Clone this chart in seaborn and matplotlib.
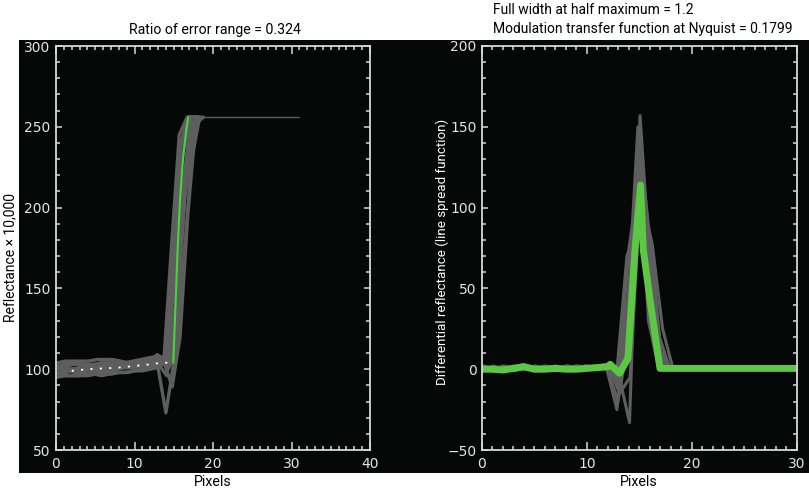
"""
Edge response (ESF) and line spread function (LSF) panels, IDL-style black plots.
"""
import matplotlib
matplotlib.use("Agg")
import matplotlib.pyplot as plt
import matplotlib.patches as mpatches
from matplotlib.ticker import MultipleLocator
import pandas as pd
import seaborn as sns

# ---- data: edge spread profiles (values at pixels 0..18, per-profile sub-pixel shift) ----
esf_pixels = list(range(19))
esf_a = [101, 100, 100, 101, 101, 101, 102, 102, 101, 102, 103, 104, 104, 106, 104, 150, 228, 256, 256]
esf_b = [97, 97, 96, 97, 97, 97, 98, 98, 98, 98, 99, 99, 100, 101, 73, 104, 182, 250, 256]
esf_c = [104, 105, 105, 105, 105, 106, 106, 106, 105, 104, 104, 103, 103, 102, 104, 140, 214, 256, 256]
esf_d = [98, 98, 99, 98, 99, 99, 99, 100, 100, 101, 101, 102, 103, 108, 103, 175, 245, 256, 256]
esf_e = [96, 96, 96, 97, 97, 96, 97, 98, 98, 99, 100, 100, 102, 104, 89, 120, 196, 252, 256]
esf_f = [100, 101, 100, 100, 99, 100, 100, 101, 101, 101, 102, 102, 104, 109, 106, 165, 240, 256, 256]
esf_g = [99, 99, 98, 99, 100, 100, 100, 100, 101, 101, 102, 102, 103, 105, 102, 138, 205, 245, 256]
esf_h = [102, 102, 103, 103, 102, 103, 103, 103, 103, 103, 104, 105, 106, 107, 100, 112, 170, 230, 256]
esf_i = [95, 96, 96, 96, 96, 97, 97, 97, 98, 98, 99, 100, 101, 103, 96, 126, 200, 250, 256]
esf_j = [103, 103, 104, 104, 103, 103, 104, 104, 104, 104, 105, 106, 107, 108, 104, 158, 236, 256, 256]
esf_k = [99, 100, 100, 99, 100, 101, 101, 100, 101, 102, 102, 103, 104, 106, 103, 145, 220, 254, 256]
esf_profiles = [esf_a, esf_b, esf_c, esf_d, esf_e, esf_f, esf_g, esf_h, esf_i, esf_j, esf_k]
esf_shift = [0.0, 0.0, 0.2, -0.3, 0.8, -0.1, 0.4, 0.3, 0.1, -0.2, 0.55]

# saturated tail of the edge
tail_x = [17, 31]
tail_y = [256, 256]

# mean (oversampled) edge, green, and the white dotted baseline mean
esf_fit_x = [14.94, 15.1, 15.25, 15.5, 15.8, 16.05, 16.3, 16.6, 16.85]
esf_fit_y = [104, 124, 143, 175, 205, 222, 236, 248, 256]
base_mean_x = [2, 4, 6, 8, 10, 12, 13.5, 14.7]
base_mean_y = [99, 100, 100.5, 101, 102, 103, 104, 104]

# ---- data: line spread profiles (values at pixels 0..18) ----
lsf_pixels = list(range(19))
lsf_a = [0, -1, 1, 0, 2, 1, 0, -1, 1, 0, 1, 1, 2, -4, -33, 157, 60, 3, 0]
lsf_b = [1, 0, 0, 2, 1, -1, 1, 0, 2, 1, 0, 2, 3, -10, 10, 140, 80, 10, 0]
lsf_c = [-1, 0, 2, 1, 0, 1, 2, 1, 0, 1, 2, 1, 1, -6, 75, 120, 40, 0, 0]
lsf_d = [0, 2, 0, -1, 1, 2, 0, 1, 1, 2, 1, 0, 2, -15, -5, 110, 78, 5, 0]
lsf_e = [1, -1, 0, 1, 3, 1, 0, 2, 1, 0, 1, 2, 0, -8, 30, 95, 75, 20, 0]
lsf_f = [0, 0, 1, 0, 1, 0, 1, 0, 2, 1, 1, 2, 3, -3, 60, 130, 55, 0, 0]
lsf_g = [-1, 1, 0, 1, 2, 0, 1, 1, 0, 2, 1, 1, 1, -20, 20, 125, 70, 12, 0]
lsf_h = [2, 0, 1, 0, 1, 1, 0, 1, 1, 1, 0, 1, 2, -12, 45, 105, 78, 25, 0]
lsf_i = [0, 1, 0, 1, 2, 1, 0, 1, 1, 0, 1, 1, 2, -5, 70, 88, 72, 8, 0]
lsf_j = [1, 0, 1, 0, 1, 0, 1, 1, 0, 1, 2, 1, 1, -25, 35, 150, 30, 0, 0]
lsf_profiles = [lsf_a, lsf_b, lsf_c, lsf_d, lsf_e, lsf_f, lsf_g, lsf_h, lsf_i, lsf_j]
lsf_shift = [0.05, 0.0, 0.0, 0.1, -0.1, 0.15, -0.05, 0.2, -0.2, -0.15]

# mean LSF, thick green
lsf_fit_x = [0, 1, 2, 3, 4, 5, 6, 7, 8, 9, 10, 11, 12, 12.2, 13.1, 13.9, 14.57, 15.1, 15.36, 16.0, 16.95, 30]
lsf_fit_y = [0, 0, -0.5, 0.5, 1.5, 0, 0, 0.5, 0, 0, 0.5, 1, 1.5, 3, -2.5, 6.7, 74, 114, 74, 43, 0.5, 0.5]

left_title = "Ratio of error range = 0.324"
right_title_1 = "Full width at half maximum = 1.2"
right_title_2 = "Modulation transfer function at Nyquist = 0.1799"
left_ylabel = "Reflectance \u00d7 10,000"
right_ylabel = "Differential reflectance (line spread function)"
xlabel = "Pixels"

# ---- style ----
sns.set_style("white")
plt.rcParams["font.family"] = ["DejaVu Sans"]
GRAY = "#5e5e5e"
FRAME = "#d8d8d8"
LABEL_FONT = ["Roboto", "DejaVu Sans"]


def long_frame(pixels, profiles, shifts):
    rows = []
    for k, (vals, s) in enumerate(zip(profiles, shifts)):
        for p, v in zip(pixels, vals):
            rows.append({"pixel": p + s, "value": v, "profile": k})
    return pd.DataFrame(rows)


def style_axes(ax, xmax, ymin, ymax):
    ax.set_facecolor("#060808")
    ax.set_xlim(0, xmax)
    ax.set_ylim(ymin, ymax)
    ax.xaxis.set_major_locator(MultipleLocator(10))
    ax.xaxis.set_minor_locator(MultipleLocator(1))
    ax.yaxis.set_major_locator(MultipleLocator(50))
    ax.yaxis.set_minor_locator(MultipleLocator(10))
    for sp in ax.spines.values():
        sp.set_color(FRAME)
        sp.set_linewidth(1.3)
        sp.set_visible(True)
    ax.tick_params(axis="x", which="major", direction="in", length=6, width=1.1,
                   color=FRAME, top=True, bottom=True, labelcolor="#e4e4e4",
                   labelsize=10, pad=5)
    ax.tick_params(axis="y", which="major", direction="in", length=4.5, width=1.1,
                   color=FRAME, left=True, right=True, labelcolor="#e4e4e4",
                   labelsize=10, pad=4)
    ax.tick_params(which="minor", direction="in", length=3, width=1.1,
                   color=FRAME, top=True, bottom=True, left=True, right=True)
    ax.set_xlabel("")
    ax.set_ylabel("")


fig = plt.figure(figsize=(8.09, 4.92), dpi=100)
fig.patch.set_facecolor("white")
fig.patches.append(mpatches.Rectangle((19 / 809, 19 / 492), 790 / 809, 433 / 492,
                                      transform=fig.transFigure, facecolor="#060808",
                                      edgecolor="none", zorder=-5))

ax1 = fig.add_axes([56 / 809, 42 / 492, 314 / 809, 404 / 492])
ax2 = fig.add_axes([482 / 809, 42 / 492, 315 / 809, 404 / 492])

# ---- left: edge spread ----
esf_df = long_frame(esf_pixels, esf_profiles, esf_shift)
sns.lineplot(data=esf_df, x="pixel", y="value", units="profile", estimator=None,
             color=GRAY, lw=2.4, ax=ax1, legend=False)
sns.lineplot(x=tail_x, y=tail_y, color=GRAY, lw=1.0, ax=ax1)
sns.lineplot(x=base_mean_x, y=base_mean_y, color="white", lw=1.3, ax=ax1)
ax1.lines[-1].set_dashes([1.2, 4])
sns.lineplot(x=esf_fit_x, y=esf_fit_y, color="#44d63a", lw=1.5, ax=ax1)
style_axes(ax1, 40, 50, 300)

# ---- right: line spread ----
lsf_df = long_frame(lsf_pixels, lsf_profiles, lsf_shift)
sns.lineplot(data=lsf_df, x="pixel", y="value", units="profile", estimator=None,
             color=GRAY, lw=2.2, ax=ax2, legend=False)
sns.lineplot(x=lsf_fit_x, y=lsf_fit_y, color="#5cc743", lw=5, ax=ax2,
             solid_capstyle="round", solid_joinstyle="round")
style_axes(ax2, 30, -50, 200)

# ---- text ----
fig.text(215 / 809, 1 - 30 / 492, left_title, ha="center", va="center",
         fontsize=10.2, color="black", family=LABEL_FONT)
fig.text(493 / 809, 1 - 10 / 492, right_title_1, ha="left", va="center",
         fontsize=10, color="black", family=LABEL_FONT)
fig.text(493 / 809, 1 - 29 / 492, right_title_2, ha="left", va="center",
         fontsize=10, color="black", family=LABEL_FONT)
fig.text(10 / 809, 1 - 258 / 492, left_ylabel, ha="center", va="center",
         rotation=90, fontsize=10, color="black", family=LABEL_FONT)
fig.text(442 / 809, 1 - 252 / 492, right_ylabel, ha="center", va="center",
         rotation=90, fontsize=9.6, color="white", family=LABEL_FONT)
fig.text(213 / 809, 1 - 482 / 492, xlabel, ha="center", va="center",
         fontsize=10.2, color="black", family=LABEL_FONT)
fig.text(639 / 809, 1 - 482 / 492, xlabel, ha="center", va="center",
         fontsize=10.2, color="black", family=LABEL_FONT)

fig.savefig("out.png", dpi=100, facecolor="white")
